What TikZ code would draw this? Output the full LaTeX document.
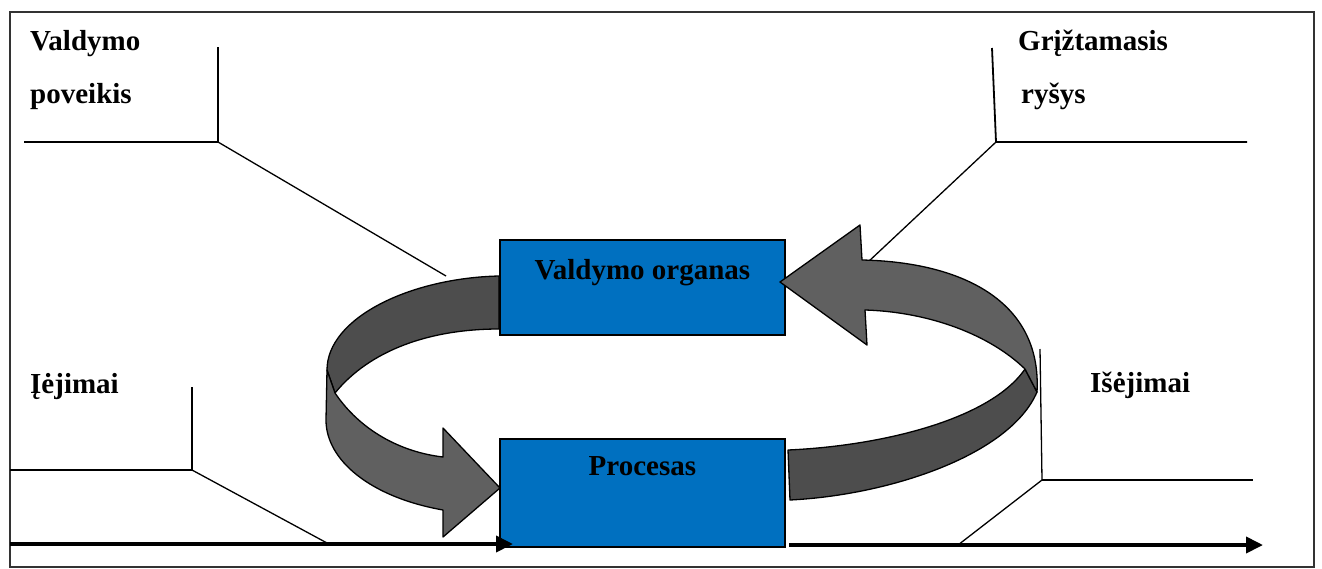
\documentclass[tikz,border=0pt]{standalone}
\usepackage{fontspec}
\setmainfont{Liberation Serif}
\usetikzlibrary{arrows.meta}
\definecolor{boxblue}{HTML}{0070C0}
\definecolor{ribdark}{HTML}{4D4D4D}
\definecolor{riblight}{HTML}{606060}
\begin{document}
\begin{tikzpicture}[x=1pt,y=-1pt,
  lbl/.style={font=\fontsize{29}{35}\selectfont\bfseries, inner sep=0pt, anchor=base west},
  boxtext/.style={font=\fontsize{29}{35}\selectfont\bfseries, inner sep=0pt, anchor=base},
  blk/.style={draw=black, line width=1.8pt, fill=boxblue, inner sep=0pt, anchor=north west},
  leader/.style={line width=1.8pt},
  leaderdiag/.style={line width=1.3pt},
  ribbon/.style={draw=black, line width=1.3pt, line join=round},
  flow/.style={line width=3.8pt, -{Triangle[length=17pt,width=16pt]}}]
\useasboundingbox (0,0) rectangle (1322,568);

% outer frame
\draw[line width=1.6pt, black!80] (10,12) rectangle (1314,567);

% labels
\node[lbl] (vp1) at (30,50) {Valdymo};
\node[lbl] (vp2) at (30,103) {poveikis};
\node[lbl] (gr1) at (1018,50) {Grįžtamasis};
\node[lbl] (gr2) at (1021,103) {ryšys};
\node[lbl] (inp) at (30,393) {Įėjimai};
\node[lbl] (outp) at (1090,392) {Išėjimai};

% leader lines
\coordinate (vpTop) at (218,47);
\coordinate (vpKnee) at (218,142);
\coordinate (vpEnd) at (24,142);
\coordinate (vpTip) at (446,276);
\draw[leader] (vpTop) -- (vpKnee) -- (vpEnd);
\draw[leaderdiag] (vpKnee) -- (vpTip);

\coordinate (grTop) at (992,48);
\coordinate (grKnee) at (996,142);
\coordinate (grEnd) at (1247,142);
\coordinate (grTip) at (868,262);
\draw[leader] (grTop) -- (grKnee) -- (grEnd);
\draw[leaderdiag] (grKnee) -- (grTip);

\coordinate (inTop) at (192,387);
\coordinate (inKnee) at (192,470);
\coordinate (inEnd) at (10,470);
\coordinate (inTip) at (327,543);
\draw[leader] (inTop) -- (inKnee) -- (inEnd);
\draw[leaderdiag] (inKnee) -- (inTip);

\coordinate (outTop) at (1040,349);
\coordinate (outKnee) at (1042,480);
\coordinate (outEnd) at (1253,480);
\coordinate (outTip) at (958,545);
\draw[leaderdiag] (outTop) -- (outKnee);
\draw[leader] (outKnee) -- (outEnd);
\draw[leaderdiag] (outKnee) -- (outTip);

% blocks
\node[blk, minimum width=285pt, minimum height=95pt] (org) at (499,239) {};
\node[boxtext] at ([yshift=-40pt]org.north) {Valdymo organas};
\node[blk, minimum width=285pt, minimum height=108pt] (proc) at (499,438) {};
\node[boxtext] at ([yshift=-37pt]proc.north) {Procesas};

% control ribbon (left)
\filldraw[ribbon, fill=ribdark] (499,276) .. controls (410,278) and (327,318) .. (327,370)
  -- (335,393) .. controls (370,350) and (430,329) .. (499,329) -- cycle;
\filldraw[ribbon, fill=riblight] (327,370) -- (335,393)
  .. controls (360,430) and (400,452) .. (443,457) -- (443,428) -- (500,488)
  -- (443,537) -- (443,510) .. controls (370,497) and (326,460) .. (326,420) -- cycle;

% feedback ribbon (right)
\filldraw[ribbon, fill=ribdark] (788,450) .. controls (880,446) and (990,420) .. (1025,369)
  -- (1037,392) .. controls (1010,455) and (890,495) .. (790,500) -- cycle;
\filldraw[ribbon, fill=riblight] (1025,369) -- (1037,392)
  .. controls (1042,300) and (960,262) .. (862,260) -- (860,225) -- (780,282)
  -- (867,345) -- (865,310) .. controls (930,312) and (990,335) .. (1025,369) -- cycle;

% input and output flows
\coordinate (inStart) at (10,544);
\coordinate (inStop) at (513,544);
\draw[flow] (inStart) -- (inStop);
\coordinate (outStart) at (789,545);
\coordinate (outStop) at (1263,545);
\draw[flow] (outStart) -- (outStop);
\end{tikzpicture}
\end{document}
